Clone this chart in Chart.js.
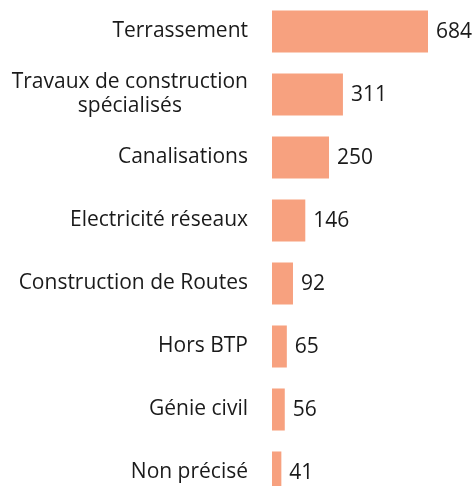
<!DOCTYPE html>
<html><head><meta charset="utf-8">
<script src="https://cdn.jsdelivr.net/npm/chart.js@4"></script>
<style>
html,body{margin:0;padding:0;overflow:hidden;background:#fff;}
canvas{display:block;}
</style></head>
<body>
<canvas id="c" width="476" height="504" style="width:476px;height:504px"></canvas>
<script>
const categories = [
  "Terrassement",
  ["Travaux de construction", "spécialisés"],
  "Canalisations",
  "Electricité réseaux",
  "Construction de Routes",
  "Hors BTP",
  "Génie civil",
  "Non précisé"
];
const values = [684, 311, 250, 146, 92, 65, 56, 41];

const FONT = "'Open Sans', sans-serif";
const TEXT = "#1a1a1a";

const valueLabels = {
  id: 'valueLabels',
  afterDatasetsDraw(chart) {
    const ctx = chart.ctx;
    const meta = chart.getDatasetMeta(0);
    ctx.save();
    ctx.font = "21px " + FONT;
    ctx.fillStyle = TEXT;
    ctx.textAlign = "left";
    ctx.textBaseline = "middle";
    meta.data.forEach((bar, i) => {
      ctx.fillText(String(values[i]), bar.x + 8, bar.y + 1);
    });
    // category labels: block right-aligned, lines centered within block
    const yScale = chart.scales.y;
    const rightEdge = yScale.right - 24;
    const lh = 24;
    categories.forEach((cat, i) => {
      const lines = Array.isArray(cat) ? cat : [cat];
      const maxW = Math.max(...lines.map(l => ctx.measureText(l).width));
      const cx = rightEdge - maxW / 2;
      const yc = yScale.getPixelForTick(i);
      const y0 = yc - (lines.length - 1) * lh / 2;
      ctx.textAlign = "center";
      lines.forEach((l, k) => ctx.fillText(l, cx, y0 + k * lh));
    });
    ctx.restore();
  }
};

new Chart(document.getElementById('c'), {
  type: 'bar',
  data: {
    labels: categories,
    datasets: [{
      data: values,
      backgroundColor: '#F7A17F',
      borderWidth: 0,
      barPercentage: 0.667,
      categoryPercentage: 1
    }]
  },
  options: {
    indexAxis: 'y',
    responsive: false,
    maintainAspectRatio: false,
    animation: false,
    layout: { padding: { top: 0, bottom: 0, left: 0, right: 48 } },
    plugins: { legend: { display: false }, tooltip: { enabled: false } },
    scales: {
      x: { display: false, min: 0, max: 684 },
      y: {
        grid: { display: false, drawTicks: false },
        border: { display: false },
        ticks: { display: false },
        afterFit(scale) { scale.width = 272; scale.paddingTop = 0; scale.paddingBottom = 0; }
      }
    }
  },
  plugins: [valueLabels]
});
</script>
</body></html>
